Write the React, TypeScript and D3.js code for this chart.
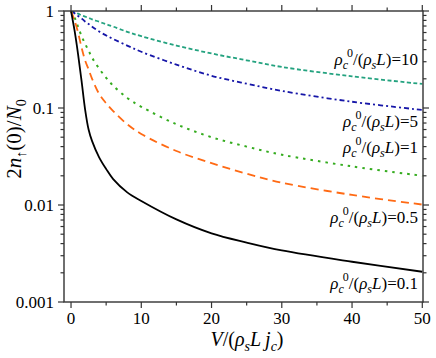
import React, { useEffect } from 'react';
import * as d3 from 'd3';

// V/(rho_s L j_c) sample points
const vGrid = [0, 0.5, 1, 1.5, 2, 2.5, 3, 4, 5, 6, 8, 10, 15, 20, 25, 30, 40, 50];

// 2 n(0) / N0
const rho01 = [1, 0.63, 0.36, 0.19, 0.097, 0.06, 0.0455, 0.031, 0.0235, 0.0185, 0.0135, 0.011, 0.0071, 0.0051, 0.0041, 0.0034, 0.0026, 0.00205];
const rho05 = [1, 0.8, 0.6, 0.42, 0.31, 0.25, 0.2, 0.14, 0.112, 0.093, 0.068, 0.054, 0.036, 0.027, 0.021, 0.017, 0.0127, 0.0101];
const rho1 = [1, 0.86, 0.69, 0.55, 0.46, 0.39, 0.33, 0.255, 0.205, 0.17, 0.127, 0.103, 0.068, 0.05, 0.04, 0.033, 0.025, 0.02];
const rho5 = [1, 0.95, 0.89, 0.84, 0.78, 0.735, 0.69, 0.615, 0.56, 0.515, 0.44, 0.38, 0.28, 0.215, 0.178, 0.15, 0.116, 0.0955];
const rho10 = [1, 0.97, 0.94, 0.9, 0.875, 0.85, 0.82, 0.775, 0.73, 0.69, 0.61, 0.55, 0.44, 0.365, 0.31, 0.265, 0.212, 0.177];

const seriesLabels = ['10', '5', '1', '0.5', '0.1'];
const xTicks = [0, 10, 20, 30, 40, 50];
const yTicks = [1, 0.1, 0.01, 0.001];

const W = 436;
const H = 358;
const m = { left: 64, right: 13, top: 11, bottom: 56 };
const font = 'Liberation Serif, Times New Roman, DejaVu Serif, serif';

const series = [
  { vals: rho10, color: '#23a27f', dash: '4,2.5', width: 1.8 },
  { vals: rho5, color: '#1616a8', dash: '5,3,2,3', width: 1.8 },
  { vals: rho1, color: '#35ac1f', dash: '2.5,5', width: 2 },
  { vals: rho05, color: '#ff6a14', dash: '8,5', width: 1.8 },
  { vals: rho01, color: '#000000', dash: null, width: 1.8 },
];

// label baselines (text anchored at end, right of plot)
const labelY = [65, 127, 153, 223, 289];

const App = () => {
  useEffect(() => {
    document.body.style.margin = '0';
  }, []);

  const x = d3.scaleLinear().domain([-1, 50.1]).range([m.left, W - m.right]);
  const y = d3.scaleLog().domain([0.001, 1]).range([H - m.bottom, m.top]);

  const line = d3
    .line<number>()
    .x((_, i) => x(vGrid[i]))
    .y(d => y(d))
    .curve(d3.curveCatmullRom.alpha(0.5));

  const x0 = x.range()[0];
  const x1 = x.range()[1];
  const y0 = y.range()[0];
  const y1 = y.range()[1];

  const xMinor = d3.range(0, 51, 5);
  const yMinor: number[] = [];
  for (let e = -3; e < 0; e++) {
    for (let k = 2; k <= 9; k++) yMinor.push(k * Math.pow(10, e));
  }
  const axisColor = '#333';

  return (
    <svg width={W} height={H} style={{ display: 'block' }} fontFamily={font}>
      <defs>
        <clipPath id="plot">
          <rect x={x0} y={y1} width={x1 - x0} height={y0 - y1} />
        </clipPath>
      </defs>
      <g clipPath="url(#plot)">
        {series.map((s, i) => (
          <path
            key={i}
            d={line(s.vals) || ''}
            fill="none"
            stroke={s.color}
            strokeWidth={s.width}
            strokeDasharray={s.dash || undefined}
          />
        ))}
      </g>

      <rect x={x0} y={y1} width={x1 - x0} height={y0 - y1} fill="none" stroke={axisColor} strokeWidth={1.4} />

      {/* x ticks bottom & top, outward */}
      {xMinor.map(v => {
        const major = v % 10 === 0;
        const len = major ? 6 : 3.5;
        return (
          <g key={'x' + v} stroke={axisColor} strokeWidth={1.2}>
            <line x1={x(v)} x2={x(v)} y1={y0} y2={y0 + len} />
            <line x1={x(v)} x2={x(v)} y1={y1} y2={y1 - len} />
          </g>
        );
      })}
      {yTicks.map(v => (
        <g key={'y' + v} stroke={axisColor} strokeWidth={1.2}>
          <line x1={x0} x2={x0 - 6} y1={y(v)} y2={y(v)} />
          <line x1={x1} x2={x1 + 6} y1={y(v)} y2={y(v)} />
        </g>
      ))}
      {yMinor.map(v => (
        <g key={'ym' + v} stroke={axisColor} strokeWidth={1.2}>
          <line x1={x0} x2={x0 - 3.5} y1={y(v)} y2={y(v)} />
          <line x1={x1} x2={x1 + 3.5} y1={y(v)} y2={y(v)} />
        </g>
      ))}

      {xTicks.map(v => (
        <text key={'xt' + v} x={x(v)} y={324} textAnchor="middle" fontSize={17} fontFamily={font}>
          {v}
        </text>
      ))}
      {yTicks.map(v => (
        <text key={'yt' + v} x={x0 - 10} y={y(v) + 6} textAnchor="end" fontSize={17} fontFamily={font}>
          {String(v)}
        </text>
      ))}

      {/* axis titles */}
      <text x={247} y={346} textAnchor="middle" fontSize={20} fontFamily={font}>
        <tspan fontStyle="italic">V</tspan>
        <tspan>/(</tspan>
        <tspan fontStyle="italic">ρ</tspan>
        <tspan fontStyle="italic" fontSize={14} dy={5}>s</tspan>
        <tspan fontStyle="italic" dy={-5}>L</tspan>
        <tspan fontStyle="italic" dx={4}>j</tspan>
        <tspan fontStyle="italic" fontSize={14} dy={5}>c</tspan>
        <tspan dy={-5}>)</tspan>
      </text>
      <text transform="translate(21,139) rotate(-90)" textAnchor="middle" fontSize={21} fontFamily={font}>
        <tspan>2</tspan>
        <tspan fontStyle="italic">n</tspan>
        <tspan fontSize={14} dy={5}>↑</tspan>
        <tspan dy={-5}>(0)/</tspan>
        <tspan fontStyle="italic">N</tspan>
        <tspan fontSize={14} dy={5}>0</tspan>
      </text>

      {/* curve labels */}
      {seriesLabels.map((lab, i) => (
        <text key={'l' + i} x={418} y={labelY[i]} textAnchor="end" fontSize={17} fontFamily={font}>
          <tspan fontStyle="italic">ρ</tspan>
          <tspan fontStyle="italic" fontSize={12} dy={4}>c</tspan>
          <tspan fontSize={12} dy={-12} dx={-1}>0</tspan>
          <tspan dy={8}>/(</tspan>
          <tspan fontStyle="italic">ρ</tspan>
          <tspan fontStyle="italic" fontSize={12} dy={4}>s</tspan>
          <tspan fontStyle="italic" dy={-4}>L</tspan>
          <tspan>)={lab}</tspan>
        </text>
      ))}
    </svg>
  );
};

export default App;
